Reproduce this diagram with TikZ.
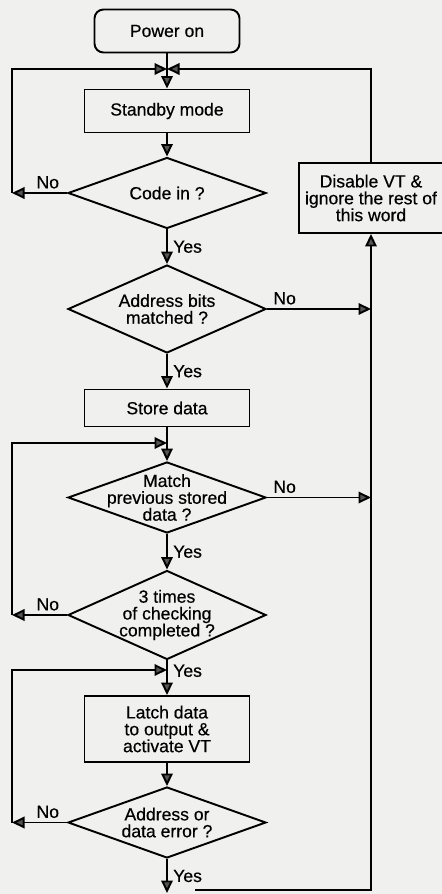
\documentclass[tikz,border=0pt]{standalone}
\usepackage{fontspec}
\setmainfont{Liberation Sans}[FakeBold=0.5]
\usetikzlibrary{shapes.geometric, arrows.meta, positioning}
\definecolor{paper}{RGB}{240,240,238}
\definecolor{tipgray}{RGB}{85,85,85}

\begin{document}
\begin{tikzpicture}[
  font=\fontsize{10}{9.6}\selectfont,
  line width=1.1pt,
  proc/.style={rectangle, draw, minimum width=3.3cm, minimum height=0.86cm, align=center},
  decision/.style={diamond, draw, minimum width=3.96cm, minimum height=1.42cm, inner sep=-1cm, align=center},
  arr/.style={-{Triangle[length=0.25cm, width=0.23cm, fill=tipgray]}},
  yes/.style={right, inner sep=3pt},
  no/.style={above, inner sep=2pt}
]
  \fill[paper] (0,0) rectangle (8.84,-17.88);
  \useasboundingbox (0,0) rectangle (8.84,-17.88);

  % main column
  \node[proc, rounded corners=0.18cm, minimum width=2.9cm] (power) at (3.34,-0.62) {Power on};
  \coordinate (merge1) at (3.34,-1.38);
  \node[proc] (standby) at (3.34,-2.22) {Standby mode};
  \node[decision] (code) at (3.34,-3.86) {Code in ?};
  \node[decision, minimum height=1.76cm] (addr) at (3.34,-6.18) {Address bits\\matched ?};
  \node[proc, minimum height=0.74cm] (store) at (3.34,-8.16) {Store data};
  \coordinate (merge2) at (3.34,-8.86);
  \node[decision] (match) at (3.34,-9.95) {Match\\previous stored\\data ?};
  \node[decision, minimum height=1.78cm] (three) at (3.34,-12.3) {3 times\\of checking\\completed ?};
  \coordinate (merge3) at (3.34,-13.4);
  \node[proc, minimum height=1.32cm] (latch) at (3.34,-14.58) {Latch data\\to output \&\\activate VT};
  \node[decision] (error) at (3.34,-16.45) {Address or\\data error ?};
  \coordinate (endpt) at (3.34,-17.86);

  % reject branch
  \node[proc, minimum width=2.76cm, minimum height=1.4cm] (disable) at (7.42,-3.96) {Disable VT \&\\ignore the rest of\\this word};
  \coordinate (lft) at (0.24,0);
  \coordinate (btm) at (3.9,-17.8);

  \draw (power) -- (merge1);
  \draw[arr] (merge1) -- (standby);
  \draw[arr] (standby) -- (code);
  \draw[arr] (code) -- node[yes] {Yes} (addr);
  \draw[arr] (addr) -- node[yes] {Yes} (store);
  \draw[arr] (store) -- (match);
  \draw[arr] (match) -- node[yes] {Yes} (three);
  \draw[arr] (three) -- node[yes, pos=0.3] {Yes} (latch);
  \draw[arr] (latch) -- (error);
  \draw[arr] (error) -- node[yes] {Yes} (endpt);

  % No loops on the left
  \draw[arr] (code.west) -- node[no, pos=0.35] {No} (code.west -| lft);
  \draw[arr] (code.west -| lft) |- (merge1);
  \draw[arr] (three.west) -- node[no, pos=0.35] {No} (three.west -| lft);
  \draw[arr] (three.west -| lft) |- (merge2);
  \draw[arr] (error.west) -- node[no, pos=0.35] {No} (error.west -| lft);
  \draw[arr] (error.west -| lft) |- (merge3);

  % No exits on the right
  \draw[arr] (addr.east) -- node[no, pos=0.17] {No} (addr.east -| disable.south);
  \draw[arr] (match.east) -- node[no, pos=0.17] {No} (match.east -| disable.south);
  \draw[arr] (btm) -| (disable.south);
  \draw[arr] (disable.north) |- (merge1);
\end{tikzpicture}
\end{document}
